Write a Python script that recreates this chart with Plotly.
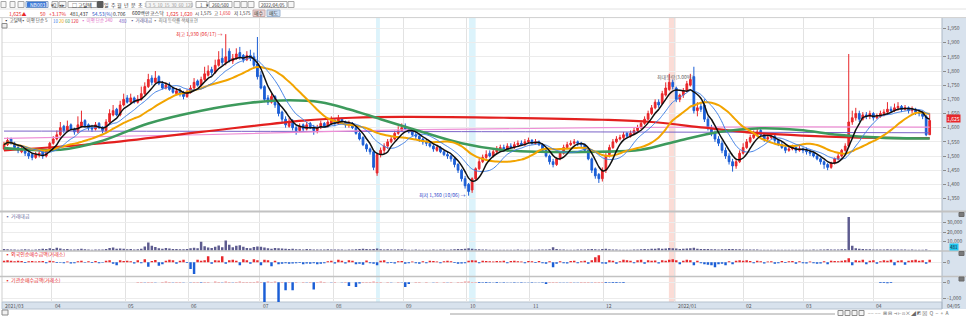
import plotly.graph_objects as go
import pandas as pd

# ---------------- data ----------------
close = [
 1540,1555,1545,1530,1520,1525,1510,1500,1495,1505,
 1510,1500,1520,1545,1560,1575,1600,1590,1605,1595,
 1585,1610,1620,1605,1600,1595,1610,1600,1590,1620,
 1650,1660,1645,1680,1700,1690,1705,1690,1700,1720,
 1745,1770,1760,1775,1755,1740,1750,1735,1725,1730,
 1720,1710,1725,1740,1760,1750,1770,1790,1800,1795,
 1820,1840,1830,1850,1835,1845,1860,1850,1840,1855,
 1845,1820,1780,1740,1700,1690,1710,1680,1650,1630,
 1610,1620,1600,1590,1605,1595,1610,1600,1590,1600,
 1615,1605,1620,1625,1615,1630,1620,1610,1615,1600,
 1580,1560,1540,1525,1515,1460,1505,1520,1535,1550,
 1560,1580,1590,1600,1595,1585,1575,1570,1560,1550,
 1545,1535,1525,1530,1515,1505,1500,1490,1470,1450,
 1420,1395,1375,1420,1455,1480,1495,1505,1500,1515,
 1525,1530,1520,1535,1530,1540,1545,1540,1550,1555,
 1545,1550,1540,1520,1500,1480,1470,1490,1510,1530,
 1540,1545,1550,1545,1540,1520,1490,1450,1430,1420,
 1450,1500,1530,1550,1560,1565,1575,1570,1580,1590,
 1600,1615,1630,1650,1670,1690,1680,1720,1740,1760,
 1745,1700,1715,1730,1755,1770,1660,1670,1665,1630,
 1600,1580,1560,1545,1520,1500,1480,1465,1480,1510,
 1530,1550,1565,1575,1585,1575,1560,1565,1570,1555,
 1540,1530,1520,1525,1530,1520,1525,1520,1515,1510,
 1500,1490,1480,1470,1460,1475,1490,1500,1520,1535,
 1620,1635,1650,1630,1645,1640,1650,1635,1640,1650,
 1655,1665,1660,1670,1675,1665,1670,1660,1665,1655,
 1650,1640,1575,1625]

open_ = [
 1525,1540,1560,1545,1530,1515,1525,1510,1505,1495,
 1505,1515,1500,1520,1545,1560,1575,1605,1590,1610,
 1595,1585,1605,1625,1610,1600,1595,1615,1600,1590,
 1620,1645,1665,1645,1680,1705,1690,1705,1690,1700,
 1720,1745,1775,1760,1780,1755,1740,1750,1740,1720,
 1730,1720,1710,1725,1740,1765,1750,1770,1785,1805,
 1795,1820,1845,1830,1870,1835,1845,1865,1855,1840,
 1855,1850,1825,1785,1745,1705,1690,1710,1685,1655,
 1630,1605,1625,1600,1590,1610,1595,1615,1600,1590,
 1600,1615,1605,1615,1625,1615,1630,1620,1610,1615,
 1600,1580,1565,1540,1525,1515,1440,1505,1520,1535,
 1550,1560,1580,1590,1605,1595,1585,1575,1570,1560,
 1550,1545,1535,1520,1530,1515,1505,1500,1490,1470,
 1450,1420,1400,1380,1420,1455,1480,1495,1510,1500,
 1515,1525,1530,1520,1535,1530,1540,1545,1540,1550,
 1555,1545,1550,1540,1520,1500,1480,1470,1490,1510,
 1530,1540,1545,1550,1545,1540,1520,1490,1455,1435,
 1420,1450,1505,1530,1550,1560,1565,1580,1570,1580,
 1590,1600,1615,1630,1650,1670,1690,1685,1715,1735,
 1760,1740,1700,1715,1730,1750,1780,1660,1675,1680,
 1630,1600,1580,1560,1545,1520,1500,1480,1465,1480,
 1510,1530,1550,1565,1575,1590,1575,1560,1565,1570,
 1555,1540,1530,1520,1525,1530,1520,1525,1520,1515,
 1510,1500,1490,1480,1470,1460,1475,1490,1500,1520,
 1535,1620,1635,1650,1630,1645,1640,1650,1635,1640,
 1650,1655,1665,1660,1670,1675,1665,1670,1660,1665,
 1655,1650,1640,1575]

high = [
 1550,1565,1565,1550,1535,1535,1530,1515,1510,1515,
 1520,1520,1525,1550,1570,1590,1620,1610,1625,1615,
 1600,1640,1660,1630,1615,1610,1620,1620,1605,1630,
 1665,1680,1670,1695,1720,1715,1720,1710,1715,1745,
 1760,1790,1785,1800,1785,1765,1760,1760,1745,1740,
 1740,1730,1735,1750,1775,1770,1780,1815,1820,1815,
 1840,1870,1880,1930,1880,1860,1880,1885,1860,1870,
 1875,1865,1920,1800,1750,1715,1720,1715,1690,1660,
 1640,1635,1630,1610,1615,1615,1620,1620,1610,1610,
 1625,1620,1630,1640,1630,1645,1635,1625,1625,1620,
 1605,1590,1570,1545,1530,1520,1510,1530,1545,1560,
 1570,1590,1605,1615,1615,1600,1590,1585,1575,1565,
 1560,1550,1540,1540,1535,1520,1515,1505,1495,1475,
 1455,1430,1405,1425,1460,1490,1505,1520,1520,1525,
 1535,1540,1540,1545,1545,1550,1555,1555,1560,1565,
 1560,1560,1555,1545,1525,1505,1490,1495,1515,1540,
 1550,1555,1560,1555,1550,1545,1525,1495,1460,1440,
 1460,1510,1540,1560,1570,1575,1585,1585,1590,1600,
 1610,1625,1640,1660,1680,1700,1700,1730,1760,1790,
 1770,1745,1720,1740,1765,1790,1815,1690,1690,1700,
 1640,1610,1590,1570,1555,1530,1510,1490,1490,1520,
 1545,1560,1575,1590,1600,1600,1580,1575,1580,1575,
 1560,1550,1540,1535,1540,1535,1535,1530,1530,1525,
 1515,1505,1495,1485,1475,1480,1495,1510,1525,1545,
 1860,1660,1670,1660,1655,1655,1660,1655,1650,1660,
 1665,1690,1675,1685,1690,1680,1680,1675,1675,1670,
 1665,1660,1645,1650]

low = [
 1520,1535,1540,1525,1510,1510,1500,1490,1485,1490,
 1495,1490,1495,1515,1540,1555,1570,1580,1585,1590,
 1575,1580,1600,1600,1590,1585,1590,1595,1580,1585,
 1615,1640,1640,1640,1675,1685,1685,1685,1685,1695,
 1715,1740,1750,1755,1750,1735,1735,1730,1720,1715,
 1710,1700,1705,1720,1735,1745,1745,1765,1780,1785,
 1790,1815,1820,1820,1830,1825,1840,1840,1830,1835,
 1835,1810,1770,1735,1690,1680,1685,1670,1640,1620,
 1600,1600,1590,1575,1585,1585,1590,1595,1575,1580,
 1595,1600,1600,1610,1605,1610,1615,1600,1600,1595,
 1575,1555,1535,1515,1505,1450,1430,1495,1510,1525,
 1545,1555,1575,1585,1590,1580,1570,1560,1550,1540,
 1535,1530,1515,1515,1510,1500,1490,1480,1460,1440,
 1410,1385,1360,1370,1415,1450,1475,1490,1495,1495,
 1510,1520,1515,1515,1525,1525,1535,1535,1535,1545,
 1540,1540,1535,1515,1495,1470,1460,1465,1485,1505,
 1525,1535,1540,1535,1530,1515,1485,1440,1420,1405,
 1410,1440,1495,1525,1545,1555,1560,1565,1565,1575,
 1585,1595,1610,1625,1645,1665,1670,1680,1710,1730,
 1735,1690,1690,1705,1725,1745,1650,1640,1655,1620,
 1590,1570,1550,1535,1510,1490,1470,1445,1455,1475,
 1505,1525,1545,1560,1570,1570,1550,1555,1560,1545,
 1535,1525,1510,1515,1520,1510,1515,1510,1505,1500,
 1495,1485,1470,1455,1450,1455,1470,1485,1495,1515,
 1530,1610,1625,1620,1625,1630,1630,1625,1630,1635,
 1640,1645,1650,1655,1660,1655,1660,1650,1650,1645,
 1640,1630,1570,1575]

volume = [
 1800,1500,1200,1400,1100,1300,1600,1200,1000,1300,
 1500,2200,1800,2500,1900,3200,2400,1500,1800,1400,
 1300,1600,2000,1500,1200,1100,1400,1300,1200,1800,
 2800,3300,2000,2400,2100,1600,1900,1400,1500,2200,
 4500,8800,5200,3900,2600,2100,3000,2400,1900,1700,
 1600,1500,1800,2600,3100,2500,9500,4800,3500,2900,
 4200,5600,3800,11000,6400,3600,5200,5800,4100,2800,
 2600,3900,4400,4200,3300,2500,2200,3000,2600,2400,
 2200,1800,2000,1600,1500,1400,1700,1500,1300,1400,
 1400,1200,1500,1300,1200,1400,1300,1100,1200,1300,
 1500,1700,2200,1800,1600,1900,2400,1600,1400,1500,
 1300,1400,1600,1500,1200,1100,1000,1200,1100,1000,
 1100,1000,1200,1100,1300,1200,1100,1400,1500,1700,
 1900,2100,2500,2000,1600,1500,1300,1200,1100,1000,
 1000,1100,900,1000,1100,1000,1200,1000,900,1000,
 1100,1000,1200,1300,1400,1500,3800,1800,1400,1200,
 1100,1000,1100,1300,1200,1400,1600,1800,1500,1400,
 1800,2200,1600,1300,1200,1100,1000,1100,1000,1200,
 1300,1500,1800,1600,2000,2200,2600,2100,2400,3000,
 2600,2400,1800,2000,2300,2700,3200,2100,1800,1900,
 1800,1600,1500,1400,1600,1500,1700,1800,1600,1500,
 1400,1300,1200,1300,1200,1100,1000,1100,1000,1000,
 1000,1100,1000,900,1000,1100,1000,900,1000,1100,
 1200,1100,1300,1400,1500,1300,1200,1400,1600,1600,
 36000,5200,2600,2000,1800,1600,1500,1400,1300,1300,
 1200,1500,1300,1200,1400,1300,1200,1100,1200,1100,
 1000,1100,1300,481]

foreign = [
 150,200,150,100,150,120,-80,100,120,80,
 100,120,-100,150,100,-80,-60,-100,80,-120,
 -100,100,150,-60,100,-80,120,-100,-60,150,
 200,-150,-300,200,120,150,100,-120,200,-100,
 300,-450,120,220,-350,-200,150,250,200,-150,
 160,250,-80,-700,-1200,250,150,200,600,-150,
 200,180,600,-150,200,250,150,-300,300,200,
 -150,300,200,-300,250,200,-400,150,-200,-150,
 -100,-150,-120,-100,-80,-200,-120,-150,-100,-200,
 -150,-100,100,150,-120,250,150,-120,200,150,
 -200,-150,-250,180,-100,-150,-300,150,200,-100,
 -80,-120,100,120,-150,-100,80,-100,-150,100,
 -100,150,120,80,-100,100,150,100,-80,-150,
 -120,-100,150,200,180,-100,150,120,100,80,
 120,100,150,-100,120,150,100,80,-100,120,
 100,-80,120,-100,-150,100,-500,-150,100,-100,
 -120,120,150,-100,100,150,-150,200,500,700,
 -120,-150,200,150,-150,100,250,200,150,-100,
 200,250,-150,200,150,180,-120,200,150,250,
 300,200,-200,150,250,200,-300,150,-100,-200,
 -250,-300,-500,-200,-150,-300,100,-200,150,200,
 150,200,120,-100,150,100,-120,80,100,-150,
 -100,120,-80,100,120,-150,100,-100,-120,80,
 -100,-150,-120,100,-200,150,120,100,150,200,
 400,-300,200,150,250,-200,150,200,-150,100,
 200,150,250,-300,150,200,-250,150,200,250,
 150,200,-150,250]

inst = ([None] * 38 + [
 20,15,
 -10,20,25,-15,10,20,30,25,-10,15,
 20,-15,10,-20,15,25,-30,20,15,10,
 30,25,-20,35,20,-15,25,30,20,15,
 20,25,30,15,-1230,30,25,40,-1230,20,
 -500,15,-500,20,10,25,-20,15,-450,20,
 30,15,10,-20,15,10,-15,20,-230,10,
 -300,-80,15,20,25,30,20,25,10,15,
 -20,10,15,-20,-300,-100,10,15,20,10,
 15,10,-15,20,10,15,-10,15,10,20,
 25,30,35,25,20,-40,-30,-40,-35,-20,
 -50,-20,-25,-15,-20,-25,-20,-30,-15,-20,
 -25,-15,-20,-25,-100,20,25,15,-20,-15,
 -10,15,-15,-10,15,20,25,-10,15,20,
 15,-40,-35,-45,-40,-30,-40]
 + [None] * 72 + [-50,-40,-60,-45] + [None] * 11)

# sparse long moving averages (candle index, value)
ma60_i = [0,16,27,41,56,70,81,90,98,107,118,130,141,152,169,181,192,203,215,226,237,249,263]
ma60_v = [1528,1522,1550,1615,1660,1688,1697,1690,1665,1630,1588,1545,1522,1515,1515,1522,1555,1585,1598,1592,1575,1565,1562]
ma120_i = [0,28,56,85,99,113,142,170,184,199,213,227,241,263]
ma120_v = [1520,1545,1585,1625,1635,1638,1635,1628,1620,1600,1582,1572,1566,1563]
ma240_i = [0,56,113,170,227,263]
ma240_v = [1562,1575,1592,1600,1603,1602]
ma480_i = [0,130,263]
ma480_v = [1588,1586,1582]

month_labels = ['2021/03','04','05','06','07','08','09','10','11','12','2022/01','02','03','04']
month_pos = [-0.5,13.6,34.4,52.3,72.7,93.5,113.4,131.5,149.4,170.2,190.6,210.0,227.1,247.0]

price_ticks = [1350,1400,1450,1500,1550,1600,1650,1700,1750,1800,1850,1900,1950]

N = len(close)
idx = list(range(N))
cs = pd.Series(close)
ma5 = cs.rolling(5, min_periods=1).mean()
ma10 = cs.rolling(10, min_periods=1).mean()
ma20 = cs.rolling(20, min_periods=1).mean()

# ---------------- layout helpers ----------------
W, H = 966, 316
ML, MR, MT, MB = 2, 24, 18, 14
PW = W - ML - MR
PH = H - MT - MB
def px(x): return (x - ML) / PW
def py(y): return (H - MB - y) / PH

FONT = "Noto Sans CJK KR, Noto Sans, sans-serif"
UP, DN = '#e8272b', '#1b5ed6'

fig = go.Figure()

def sline(xs, ys, color, width):
    fig.add_trace(go.Scatter(x=xs, y=ys, mode='lines', line=dict(color=color, width=width, shape='spline', smoothing=1.0),
                             hoverinfo='skip', xaxis='x', yaxis='y'))
sline(ma480_i, ma480_v, '#7a62c8', 1)
sline(ma240_i, ma240_v, '#ee8fd6', 1.2)
sline(ma120_i, ma120_v, '#e3201f', 2.2)
sline(ma60_i, ma60_v, '#3d9a5c', 2.6)

fig.add_trace(go.Candlestick(
    x=idx, open=open_, high=high, low=low, close=close,
    increasing=dict(line=dict(color=UP, width=1), fillcolor=UP),
    decreasing=dict(line=dict(color=DN, width=1), fillcolor=DN),
    whiskerwidth=0, hoverinfo='skip', xaxis='x', yaxis='y'))

for s, c, w in [(ma20, '#f2a400', 2), (ma10, '#3f7fe6', 1), (ma5, '#111111', 1.5)]:
    fig.add_trace(go.Scatter(x=idx, y=s, mode='lines', line=dict(color=c, width=w, shape='spline', smoothing=0.5),
                             hoverinfo='skip', xaxis='x', yaxis='y'))

fig.add_trace(go.Bar(x=idx, y=volume, marker=dict(color='#5d5b8f', line=dict(width=0)),
                     hoverinfo='skip', xaxis='x', yaxis='y2'))
fig.add_trace(go.Bar(x=idx, y=foreign,
                     marker=dict(color=[UP if v >= 0 else DN for v in foreign], line=dict(width=0)),
                     hoverinfo='skip', xaxis='x', yaxis='y3'))
fig.add_trace(go.Bar(x=idx, y=inst,
                     marker=dict(color=[(UP if (v is not None and v >= 0) else DN) for v in inst], line=dict(width=0)),
                     hoverinfo='skip', xaxis='x', yaxis='y4'))

axis_common = dict(side='right', anchor='x', showgrid=True, gridcolor='#ececec', gridwidth=1,
                   zeroline=False, showline=False, ticks='outside', ticklen=3, tickcolor='#8a8a8a',
                   tickfont=dict(size=5, color='#555555', family=FONT), fixedrange=True)

fig.update_layout(
    width=W, height=H, margin=dict(l=ML, r=MR, t=MT, b=MB),
    paper_bgcolor='white', plot_bgcolor='white', showlegend=False,
    font=dict(family=FONT, size=5, color='#333333'),
    bargap=0.3,
    xaxis=dict(domain=[0, 1], anchor='y4', range=[-0.57, 266.5], tickvals=month_pos[1:],
               showticklabels=False, ticks='', showgrid=True, gridcolor='#e2e2e2', gridwidth=1,
               zeroline=False, showline=False, rangeslider=dict(visible=False), fixedrange=True),
    yaxis=dict(domain=[py(211), py(18)], range=[1306, 1987], tickvals=price_ticks,
               ticktext=[f"{v:,}" for v in price_ticks], **axis_common),
    yaxis2=dict(domain=[py(250.7), py(212)], range=[0, 41400], tickvals=[10000, 20000, 30000],
                ticktext=['10,000', '20,000', '30,000'], **axis_common),
    yaxis3=dict(domain=[py(276.2), py(251.2)], range=[-1420, 1120], tickvals=[0], ticktext=['0'], **axis_common),
    yaxis4=dict(domain=[0, py(276.8)], range=[-1231, 344], tickvals=[0, -1000], ticktext=['0', '-1,000'], **axis_common),
)

shapes = []
for x0, x1, col in [(105.7, 106.8, '#dcf3fb'), (132.1, 134.0, '#dcf3fb'), (188.9, 190.8, '#fbdcd6')]:
    shapes.append(dict(type='rect', xref='x', yref='paper', x0=x0, x1=x1, y0=0, y1=1, fillcolor=col,
                       line=dict(width=0), layer='below'))
shapes.append(dict(type='rect', xref='paper', yref='paper', x0=1, x1=px(966), y0=py(309), y1=py(18),
                   fillcolor='#d8e2ed', line=dict(width=0), layer='below'))
shapes.append(dict(type='line', xref='paper', yref='paper', x0=1, x1=1, y0=py(309), y1=py(18),
                   line=dict(color='#aab6c4', width=1)))
shapes.append(dict(type='rect', xref='paper', yref='paper', x0=0, x1=1, y0=py(309), y1=py(302),
                   fillcolor='#d8e2ed', line=dict(color='#b6c2cf', width=1), layer='below'))
shapes.append(dict(type='line', xref='paper', yref='paper', x0=0, x1=0, y0=0, y1=py(18),
                   line=dict(color='#cfcfcf', width=1)))
for yy, w in [(211.5, 2), (251.0, 1.5), (276.5, 1.5)]:
    shapes.append(dict(type='line', xref='paper', yref='paper', x0=px(0), x1=px(966), y0=py(yy), y1=py(yy),
                       line=dict(color='#c2c2c2', width=w)))
shapes.append(dict(type='line', xref='paper', yref='paper', x0=px(0), x1=px(966), y0=py(9), y1=py(9),
                   line=dict(color='#e2e2e2', width=1)))
shapes.append(dict(type='line', xref='paper', yref='paper', x0=px(0), x1=px(966), y0=py(17.6), y1=py(17.6),
                   line=dict(color='#cfcfcf', width=1)))

def box(x0, x1, y0, y1, fill='#f7f7f7', line='#a8a8a8'):
    shapes.append(dict(type='rect', xref='paper', yref='paper', x0=px(x0), x1=px(x1), y0=py(y1), y1=py(y0),
                       fillcolor=fill, line=dict(color=line, width=1)))

for a, b in [(1, 6), (10, 15), (18, 24)]:
    box(a, b, 1.5, 7.5)
box(26, 48, 1.5, 7.5, fill='white', line='#7f9dc4')
box(27.5, 46, 2.5, 6.8, fill='#3a78d8', line='#3a78d8')
box(52, 58, 1.5, 7.5)
box(59, 66, 1.5, 7.5)
box(68, 97, 1.5, 7.5, fill='white')
box(97.5, 103, 1.5, 7.5, fill='#5a5a5a', line='#5a5a5a')
box(146, 192, 1.5, 7.5, fill='#f4f4f4', line='#c8c8c8')
box(196, 207, 1.5, 7.5, fill='white')
box(209, 232, 1.5, 7.5, fill='white')
for a in (234, 241, 248):
    box(a, a + 6, 1.5, 7.5)
box(259, 287, 1.5, 7.5, fill='white')
box(288, 294, 1.5, 7.5)
box(253, 265, 10, 16.5, fill='#ecd6d6', line='#c9aaaa')
box(267, 280, 10, 16.5, fill='#cfe0f4', line='#9fb6d2')
box(2, 7, 23.5, 28, fill='#eeeeee', line='#8a8a8a')
for yy in (212.5, 251.5, 277):
    box(959, 964, yy, yy + 4, fill='#7a7a7a', line='#6a6a6a')
box(2, 8, 310, 315, fill='#f1f1f1', line='#8a8a8a')
shapes.append(dict(type='line', xref='paper', yref='paper', x0=px(450), x1=px(835), y0=py(314), y1=py(314),
                   line=dict(color='#a0a0a0', width=1)))
for a in (838, 845, 852, 859):
    box(a, a + 5, 310.5, 315.5, fill='#f4f4f4', line='#8d8d8d')
fig.update_layout(shapes=shapes)

ann = []
def T(x, y, text, color='#333333', size=5, anchor='left', bg=None):
    d = dict(x=px(x), y=py(y), xref='paper', yref='paper', text=text, showarrow=False,
             xanchor=anchor, yanchor='middle', font=dict(size=size, color=color, family=FONT))
    if bg:
        d['bgcolor'] = bg
        d['borderpad'] = 0
    ann.append(d)

# toolbar row 1
T(37, 4.6, 'NB003', 'white', 5, 'center')
T(49, 4.6, '▾', '#555555', 5)
T(55, 4.6, 'Q', '#555555', 4.5, 'center')
T(62.5, 4.6, '◂▸', '#555555', 4.5, 'center')
T(70, 4.6, '□ 고딜텍', '#222222', 5)
for x, t in zip([106.5, 113, 119.5, 126, 133, 140], ['일', '주', '월', '년', '분', '초']):
    T(x, 4.6, t, '#333333', 5, 'center')
T(169, 4.6, '1  3  5  10  15  30  60  120', '#9a9a9a', 4.5, 'center')
T(198, 4.6, '1   ▾', '#555555', 4.5)
T(220.5, 4.6, '260/500', '#333333', 4.5, 'center')
T(273, 4.6, '2022/04/05', '#333333', 4.5, 'center')
# toolbar row 2
T(7, 13.2, '1,625▲', UP, 5)
T(38, 13.2, '50', UP, 5)
T(47, 13.2, '+3.17%', UP, 5)
T(68, 13.2, '481,437', '#333333', 5)
T(90, 13.2, '54.53(%)', '#2a56c6', 5)
T(111, 13.2, '0.706', '#333333', 5)
T(130, 13.2, '600백만', '#333333', 5)
T(148, 13.2, '코스닥', '#333333', 5)
T(164, 13.2, '1,625', UP, 5)
T(178, 13.2, '1,620', UP, 5)
T(193, 13.2, '시 1,575', '#333333', 4.5)
T(212, 13.2, '고 <span style="color:#e8272b">1,650</span>', '#333333', 4.5)
T(232, 13.2, '저 1,575', '#333333', 4.5)
T(259, 13.2, '매수', '#333333', 5, 'center')
T(273.5, 13.2, '매도', '#333333', 5, 'center')
# legend row
T(2, 20.8, '▪ 고딜텍', '#333333', 4.5)
T(19, 20.8, '▪ 이평 단순 5', '#555555', 4.5)
T(51, 20.8, '10', '#3f7fe6', 4.5)
T(57, 20.8, '20', '#f2a400', 4.5)
T(63, 20.8, '60', '#3d9a5c', 4.5)
T(69, 20.8, '120', '#e3201f', 4.5)
T(79, 20.8, '▪ 이평 단순 240', '#e070c8', 4.5)
T(117, 20.8, '480', '#7a62c8', 4.5)
T(128, 20.8, '▪ 거래대금', '#5d5b8f', 4.5)
T(151, 20.8, '▪ 최대 등락률 색채표현', '#777777', 4.5)
# panel titles
T(3, 215.5, '▪ 거래대금', '#6a6a9a', 5)
T(3, 253.5, '▪ 외국인순매수금액(거래소)', UP, 5)
T(3, 279.5, '▪ 기관순매수금액(거래소)', UP, 5)
# right column value labels
T(953.5, 119, '1,625', 'white', 5, 'center', UP)
T(953.5, 246.8, '481', '#1a1a1a', 4.5, 'center', '#21c8f2')
T(945, 305.5, '04/05', '#555555', 5)
T(866, 313, '⎯⎯ ⎯⎯  ⊞ ⊟ ⊣ ⊢ ⊡ ✕ ◢ ◩ ⊠  Q  −  +  A', '#6a6a6a', 5)

for lab, pos in zip(month_labels, month_pos):
    ann.append(dict(x=pos, xref='x', y=py(305.5), yref='paper', text=lab, showarrow=False,
                    xanchor='left', yanchor='middle', xshift=1,
                    font=dict(size=5, color='#555555', family=FONT)))

ann.append(dict(x=63, xref='x', y=1930, yref='y', text='최고 1,930 (06/17) →', showarrow=False,
                xanchor='right', yanchor='middle', xshift=-1, font=dict(size=5, color=UP, family=FONT)))
ann.append(dict(x=132, xref='x', y=1362, yref='y', text='최저 1,360 (10/06) →', showarrow=False,
                xanchor='right', yanchor='middle', xshift=-1, font=dict(size=5, color='#2a3fc8', family=FONT)))
ann.append(dict(x=185, xref='x', y=1779, yref='y', text='최대등락(3.00%)', showarrow=False,
                xanchor='left', yanchor='middle', font=dict(size=5, color='#666666', family=FONT)))

fig.update_layout(annotations=ann)

fig.write_html("out.html", config={'displayModeBar': False, 'staticPlot': True})
